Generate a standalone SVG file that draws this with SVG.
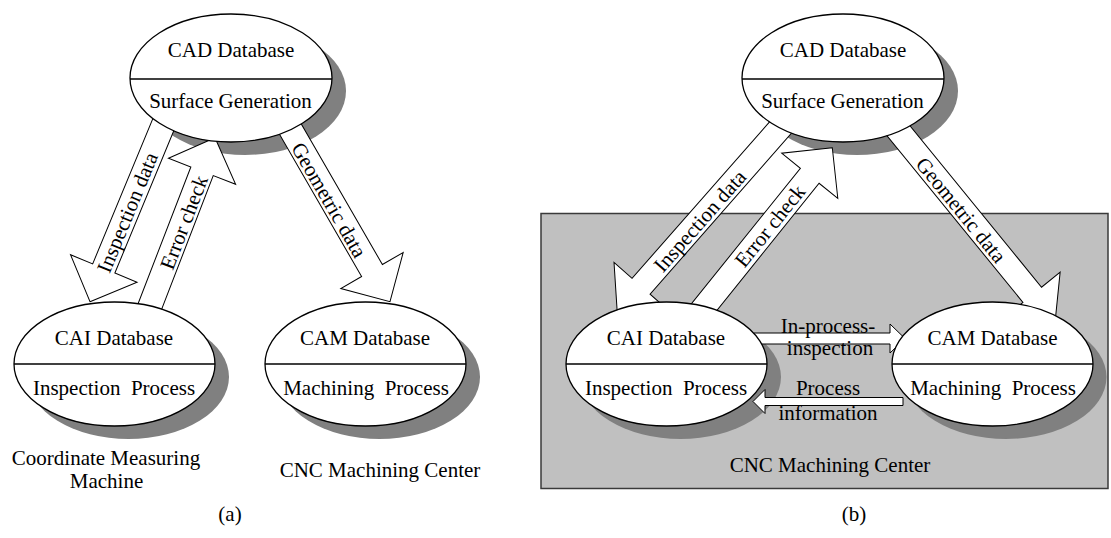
<svg xmlns="http://www.w3.org/2000/svg" width="1111" height="538" viewBox="0 0 1111 538">
<style>
text{font-family:"Liberation Serif","Times New Roman",serif;font-size:21px;fill:#000;text-anchor:middle;white-space:pre}
.shadow{fill:#808080;stroke:none}
.ell{fill:#fff;stroke:#000;stroke-width:1.3}
.div{stroke:#000;stroke-width:1.3}
.arr{fill:#fff;stroke:#000;stroke-width:1}
</style>
<rect id="cnc-b" x="541" y="213.5" width="567" height="275" fill="#c0c0c0" stroke="#3a3a3a" stroke-width="1.5"/>
<g id="shadows">
<ellipse class="shadow" cx="245" cy="91" rx="101" ry="64"/>
<ellipse class="shadow" cx="128.5" cy="377" rx="100.5" ry="62"/>
<ellipse class="shadow" cx="379.5" cy="377" rx="100.5" ry="62"/>
<ellipse class="shadow" cx="857" cy="91" rx="101" ry="64"/>
<ellipse class="shadow" cx="680.5" cy="377" rx="100.5" ry="62"/>
<ellipse class="shadow" cx="1006" cy="377" rx="100.5" ry="62"/>
</g>
<g id="connectors">
<path class="arr" transform="translate(90,301.7) rotate(112.5)" d="M0,0 L-36,-36 L-36,-12 L-210,-12 L-210,12 L-36,12 L-36,36 Z"/>
<path class="arr" transform="translate(215,137.7) rotate(-68.9)" d="M0,0 L-36,-36 L-36,-12 L-195,-12 L-195,12 L-36,12 L-36,36 Z"/>
<path class="arr" transform="translate(390,301.7) rotate(60)" d="M0,0 L-36,-36 L-36,-12 L-215,-12 L-215,12 L-36,12 L-36,36 Z"/>
<path class="arr" transform="translate(617.3,313.3) rotate(131.3)" d="M0,0 L-36,-36 L-36,-12 L-262,-12 L-262,12 L-36,12 L-36,36 Z"/>
<path class="arr" transform="translate(832.3,147.7) rotate(-51.2)" d="M0,0 L-36,-36 L-36,-12 L-214,-12 L-214,12 L-36,12 L-36,36 Z"/>
<path class="arr" transform="translate(1055,322.7) rotate(50.8)" d="M0,0 L-36,-36 L-36,-12 L-263,-12 L-263,12 L-36,12 L-36,36 Z"/>
<path class="arr" d="M754,333 L890,333 L890,324 L905,338.5 L890,353 L890,344 L754,344 Z"/>
<path class="arr" d="M903,397.5 L765,397.5 L765,389.5 L753,401.5 L765,413.5 L765,405.5 L903,405.5 Z"/>
<text transform="translate(127.5,212.5) rotate(-67.5)" y="7">Inspection data</text>
<text transform="translate(184,222.5) rotate(-68.9)" y="7">Error check</text>
<text transform="translate(329,200) rotate(60)" y="7">Geometric data</text>
<text transform="translate(700,221) rotate(-48.7)" y="7">Inspection data</text>
<text transform="translate(770,226) rotate(-51.2)" y="7">Error check</text>
<text transform="translate(961,210) rotate(50.8)" y="7">Geometric data</text>
<text x="828" y="333">In-process-</text>
<text x="830" y="355">inspection</text>
<text x="828" y="395">Process</text>
<text x="828" y="420">information</text>
</g>
<g id="cad-a">
<ellipse class="ell" cx="231" cy="78" rx="101" ry="64"/>
<line class="div" x1="130" y1="79" x2="332" y2="79"/>
<text x="231" y="57">CAD Database</text>
<text x="230.5" y="108">Surface Generation</text>
</g>
<g id="cai-a">
<ellipse class="ell" cx="114.5" cy="364" rx="100.5" ry="62"/>
<line class="div" x1="14" y1="364" x2="215" y2="364"/>
<text x="114" y="345">CAI Database</text>
<text x="114" y="395">Inspection  Process</text>
</g>
<g id="cam-a">
<ellipse class="ell" cx="365.5" cy="364" rx="100.5" ry="62"/>
<line class="div" x1="265" y1="364" x2="466" y2="364"/>
<text x="365" y="345">CAM Database</text>
<text x="366" y="395">Machining  Process</text>
</g>
<g id="cad-b">
<ellipse class="ell" cx="843" cy="78" rx="101" ry="64"/>
<line class="div" x1="742" y1="79" x2="944" y2="79"/>
<text x="843" y="57">CAD Database</text>
<text x="842.5" y="108">Surface Generation</text>
</g>
<g id="cai-b">
<ellipse class="ell" cx="666.5" cy="364" rx="100.5" ry="62"/>
<line class="div" x1="566" y1="364" x2="767" y2="364"/>
<text x="666" y="345">CAI Database</text>
<text x="666" y="395">Inspection  Process</text>
</g>
<g id="cam-b">
<ellipse class="ell" cx="992.5" cy="364" rx="100.5" ry="62"/>
<line class="div" x1="892" y1="364" x2="1093" y2="364"/>
<text x="992.5" y="345">CAM Database</text>
<text x="993" y="395">Machining  Process</text>
</g>
<g id="captions">
<text x="106" y="465">Coordinate Measuring</text>
<text x="106.5" y="488">Machine</text>
<text x="380" y="477">CNC Machining Center</text>
<text x="830" y="472">CNC Machining Center</text>
<text x="230" y="521">(a)</text>
<text x="854" y="521">(b)</text>
</g>
</svg>
